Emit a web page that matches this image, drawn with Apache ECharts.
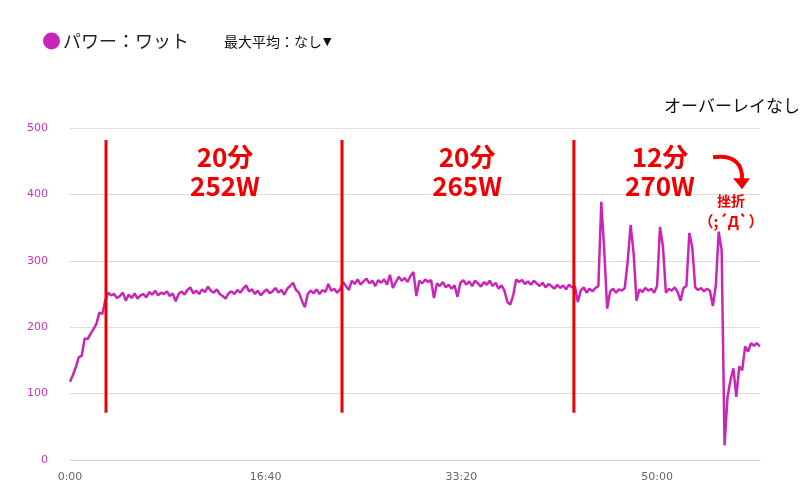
<!DOCTYPE html>
<html><head><meta charset="utf-8">
<script src="https://cdn.jsdelivr.net/npm/echarts@6/dist/echarts.min.js"></script>
<style>html,body{margin:0;padding:0;background:#fff}#c{width:803px;height:500px}</style>
</head><body><div id="c"></div>
<script>
// ---- data ----
const seriesName = 'パワー：ワット';
const stepSec = 15; // sample spacing in seconds
const watts = [
118,128,140,155,157,183,182,190,197,205,222,220,240,252,
248,250,244,247,252,240,249,244,251,243,
248,250,245,253,249,255,248,252,250,254,
247,251,239,250,254,249,256,260,251,255,
250,257,253,261,255,252,257,250,247,243,
251,254,250,256,252,258,263,254,257,250,
255,248,253,257,251,254,259,252,256,249,
258,262,267,256,252,240,230,250,255,251,
257,250,256,253,265,255,258,252,257,
268,262,256,270,265,272,264,269,273,266,
270,262,271,267,272,264,279,259,268,276,
270,274,268,277,283,247,270,266,272,268,
271,244,266,262,268,260,264,258,263,246,
267,271,264,269,262,270,266,261,268,264,
270,262,267,258,263,255,238,234,248,272,
268,271,265,269,264,270,266,262,267,260,
265,262,258,264,259,263,257,264,260,
262,238,255,260,252,258,254,259,262,389,
316,228,254,258,252,257,255,259,300,354,
312,240,257,253,259,255,258,252,262,351,
322,252,258,255,260,253,240,259,262,342,
320,260,256,259,254,258,255,232,262,344,
316,22,95,120,138,95,141,135,171,163,
176,172,176,171
];
const xMaxSec = 3526;
const xTickSec = 1000;
const yTicks = [0,100,200,300,400,500];
const splitTimes = [184, 1390, 2575];
const splitRange = [71, 482];
const segDur = ['20分','20分','12分'];
const segAvg = ['252W','265W','270W'];
const segLabelTimes = [792, 2029, 3015];
const segLabelLevel = 434;
const noteTitle = '挫折';
const noteFace = '（;´Д`）';
const notePoint = [3286, 456];
const topRightText = 'オーバーレイなし';
const maxAvgText = '最大平均：なし';

// ---- chart ----
const powerData = watts.map((v, i) => [i * stepSec, v]);
const CJK = '"Noto Sans CJK JP", sans-serif';
const chart = echarts.init(document.getElementById('c'), null, {renderer: 'canvas'});
function fmt(v){ const m = Math.floor(v/60), s = Math.round(v%60); return m + ':' + (s<10?'0':'') + s; }

const series = [{
  name: seriesName, type: 'line', data: powerData, showSymbol: false, symbol: 'none',
  sampling: null, lineStyle: {width: 2.5, color: '#c926b9'}, itemStyle: {color: '#c926b9'}, z: 2
}];
splitTimes.forEach(t => series.push({
  type: 'line', data: [[t, splitRange[0]], [t, splitRange[1]]], symbol: 'none', silent: true,
  lineStyle: {width: 3, color: '#f00000'}, z: 5
}));

chart.setOption({
  animation: false,
  backgroundColor: '#fff',
  grid: {left: 70, right: 43, top: 128, bottom: 40},
  legend: {
    left: 38, top: 27, icon: 'circle', itemWidth: 17, itemHeight: 17, itemGap: 10,
    data: [seriesName], selectedMode: false,
    textStyle: {fontSize: 18, color: '#222', fontFamily: CJK, padding: [0,0,0,-2]}
  },
  xAxis: {
    type: 'value', min: 0, max: xMaxSec, interval: xTickSec,
    axisLine: {lineStyle: {color: '#ccd6eb', width: 1}}, axisTick: {show: false},
    splitLine: {show: false},
    axisLabel: {formatter: fmt, color: '#666', fontSize: 11, margin: 12, showMaxLabel: false,
      fontFamily: '"DejaVu Sans", sans-serif'}
  },
  yAxis: {
    type: 'value', min: yTicks[0], max: yTicks[yTicks.length-1], interval: 100,
    axisLine: {show: false}, axisTick: {show: false},
    splitLine: {lineStyle: {color: '#dcdcdc', width: 1}},
    axisLabel: {color: '#cc33bb', fontSize: 11, margin: 22, fontFamily: '"DejaVu Sans", sans-serif'}
  },
  series: series
});

const g = [];
g.push({type: 'text', style: {text: '{a|' + maxAvgText + '}{b|▼}', x: 224, y: 42,
  rich: {a: {fontSize: 14, fontFamily: CJK, fill: '#111'}, b: {fontSize: 11, fontFamily: '"DejaVu Sans", sans-serif', fill: '#111', padding: [0,0,0,1]}},
  textVerticalAlign: 'middle'}, z: 10});
g.push({type: 'text', style: {text: topRightText, x: 800, y: 106, fontSize: 17,
  fontFamily: CJK, fill: '#111', textAlign: 'right', textVerticalAlign: 'middle'}, z: 10});
segLabelTimes.forEach((t, i) => {
  const p = chart.convertToPixel({gridIndex: 0}, [t, segLabelLevel]);
  g.push({type: 'text', style: {text: segDur[i] + '\n' + segAvg[i], x: p[0], y: p[1],
    fontSize: 26, fontWeight: 'bold', lineHeight: 29, fontFamily: CJK, fill: '#f00000',
    textAlign: 'center', textVerticalAlign: 'middle'}, z: 10});
});
const a = chart.convertToPixel({gridIndex: 0}, notePoint);
g.push({type: 'bezierCurve', shape: {x1: a[0], y1: a[1], cpx1: a[0]+20, cpy1: a[1]-3,
  cpx2: a[0]+30, cpy2: a[1]+6, x2: a[0]+29, y2: a[1]+23},
  style: {stroke: '#f00000', lineWidth: 4, fill: null}, z: 10});
g.push({type: 'polygon', shape: {points: [[a[0]+20, a[1]+21], [a[0]+37, a[1]+21], [a[0]+29, a[1]+32]]},
  style: {fill: '#f00000'}, z: 10});
g.push({type: 'text', style: {text: noteTitle, x: a[0]+18, y: a[1]+43, fontSize: 14, fontWeight: 'bold',
  fontFamily: CJK, fill: '#f00000', textAlign: 'center', textVerticalAlign: 'middle'}, z: 10});
g.push({type: 'text', style: {text: noteFace, x: a[0]+18, y: a[1]+64, fontSize: 15, fontWeight: 'bold',
  fontFamily: CJK, fill: '#f00000', textAlign: 'center', textVerticalAlign: 'middle'}, z: 10});
chart.setOption({graphic: g});
</script></body></html>
